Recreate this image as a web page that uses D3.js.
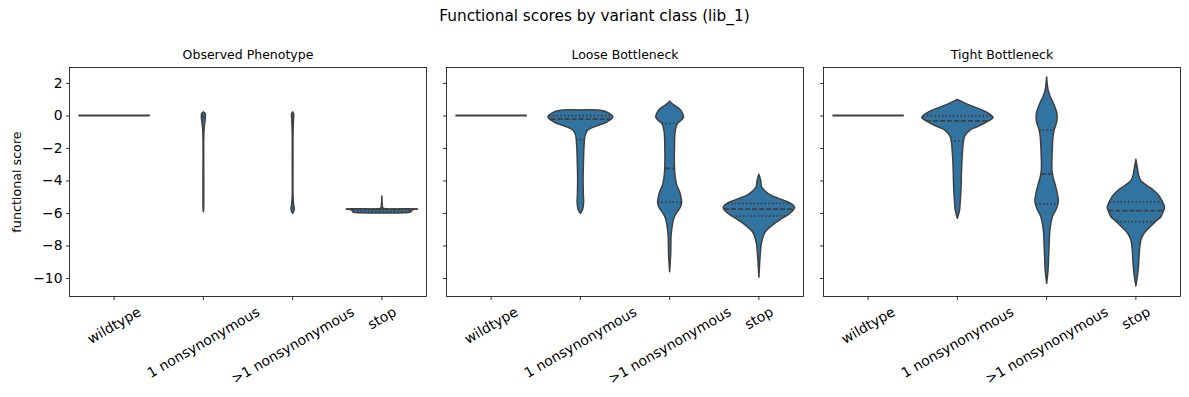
<!DOCTYPE html>
<html>
<head>
<meta charset="utf-8">
<title>Functional scores by variant class (lib_1)</title>
<style>
  body { margin: 0; background: #fff; }
  svg { display: block; font-family: "DejaVu Sans", sans-serif; }
</style>
<script src="https://cdn.jsdelivr.net/npm/d3@7"></script>
</head>
<body>
<svg id="chart"></svg>
<script>
const panels = ["Observed Phenotype", "Loose Bottleneck", "Tight Bottleneck"];
const classes = ["wildtype", "1 nonsynonymous", ">1 nonsynonymous", "stop"];
const yTicks = [2, 0, -2, -4, -6, -8, -10];

// wildtype has a single score, seaborn draws it as a flat line
const wildtypeScore = [0, 0, 0];

// density profiles: [score, relative density], top to bottom
// (order: 1 nonsynonymous, >1 nonsynonymous, stop)
const observedProfiles = [
    [[0.22, 0], [0.12, 0.05], [-0.1, 0.055], [-0.35, 0.045], [-0.8, 0.02], [-1.5, 0.01], [-5.7, 0.008], [-5.92, 0]],
    [[0.22, 0], [0.1, 0.03], [-0.2, 0.025], [-1.0, 0.012], [-3.0, 0.01], [-5.0, 0.012], [-5.5, 0.03], [-5.72, 0.045], [-5.9, 0.03], [-6.02, 0]],
    [[-4.96, 0], [-5.5, 0.012], [-5.7, 0.03], [-5.74, 0.6], [-5.76, 1.0], [-5.79, 0.86], [-5.95, 0.8], [-5.99, 0.6], [-6.0, 0]]
];
const looseProfiles = [
    [[0.34, 0], [0.32, 0.55], [0.2, 0.75], [-0.09, 0.91], [-0.39, 0.75], [-0.7, 0.39], [-0.9, 0.21], [-1.21, 0.135], [-1.83, 0.104],
     [-3.0, 0.085], [-3.87, 0.076], [-5.0, 0.085], [-5.31, 0.092], [-5.8, 0.06], [-6.02, 0]],
    [[0.88, 0], [0.74, 0.06], [0.53, 0.2], [0.33, 0.31], [-0.09, 0.39], [-0.3, 0.32], [-0.49, 0.22], [-1.0, 0.154], [-2.0, 0.135],
     [-2.85, 0.132], [-3.4, 0.14], [-3.87, 0.162], [-4.3, 0.2], [-4.7, 0.28], [-5.05, 0.32], [-5.35, 0.336], [-5.65, 0.3],
     [-5.92, 0.216], [-6.2, 0.14], [-6.54, 0.092], [-7.36, 0.042], [-8.5, 0.03], [-9.61, 0]],
    [[-3.61, 0], [-4.0, 0.05], [-4.39, 0.078], [-4.7, 0.2], [-4.9, 0.33], [-5.1, 0.55], [-5.31, 0.8], [-5.5, 0.95], [-5.68, 1.0],
     [-5.9, 0.93], [-6.13, 0.8], [-6.4, 0.6], [-6.64, 0.44], [-6.95, 0.27], [-7.25, 0.154], [-7.87, 0.07], [-8.5, 0.04], [-9.96, 0]]
];
const tightProfiles = [
    [[0.98, 0], [0.9, 0.08], [0.74, 0.23], [0.33, 0.7], [0.1, 0.9], [-0.12, 1.0], [-0.3, 0.9], [-0.49, 0.75], [-0.7, 0.55],
     [-0.9, 0.35], [-1.31, 0.2], [-2.34, 0.14], [-3.5, 0.115], [-4.39, 0.104], [-5.3, 0.08], [-5.82, 0.06], [-6.33, 0]],
    [[2.37, 0], [1.55, 0.042], [1.14, 0.106], [0.8, 0.18], [0.53, 0.23], [0.2, 0.28], [-0.18, 0.294], [-0.5, 0.27], [-0.9, 0.21],
     [-1.4, 0.175], [-1.93, 0.162], [-2.7, 0.148], [-3.36, 0.148], [-3.8, 0.18], [-4.18, 0.23], [-4.8, 0.3], [-5.31, 0.328],
     [-5.8, 0.26], [-6.23, 0.162], [-7.05, 0.092], [-8.0, 0.07], [-8.69, 0.056], [-9.5, 0.04], [-10.33, 0]],
    [[-2.7, 0], [-3.2, 0.04], [-3.6, 0.07], [-3.98, 0.13], [-4.3, 0.3], [-4.59, 0.49], [-4.9, 0.63], [-5.21, 0.72], [-5.65, 0.8],
     [-6.0, 0.75], [-6.23, 0.7], [-6.5, 0.56], [-6.85, 0.4], [-7.25, 0.23], [-7.66, 0.14], [-8.3, 0.1], [-8.89, 0.084],
     [-9.6, 0.06], [-10.49, 0]]
];

// inner quartile lines: [q3, median, q1]
const observedQuartiles = [[0.02, -0.1, -0.3], [-0.05, -0.4, -5.6], [-5.76, -5.78, -5.92]];
const looseQuartiles = [[-0.02, -0.23, -1.48], [-0.5, -3.26, -5.33], [-5.41, -5.76, -6.19]];
const tightQuartiles = [[-0.02, -0.33, -1.56], [-0.9, -3.61, -5.45], [-5.31, -5.86, -6.54]];

const profiles = [observedProfiles, looseProfiles, tightProfiles];
const quartiles = [observedQuartiles, looseQuartiles, tightQuartiles];

const W = 1189, H = 397;
const M = {left: 69.5, top: 67.5};
const PW = 357, PH = 229, GAP = 20;
const FILL = "#3274a1", LINE = "#3f3f3f";

const svg = d3.select("#chart").attr("width", W).attr("height", H);

const y = d3.scaleLinear().domain([-11.14, 2.95]).range([PH, 0]);
const x = d3.scaleBand().domain(classes).range([0, PW]);
const bw = x.bandwidth();
const w = d3.scaleLinear().domain([0, 1]).range([0, 0.4 * bw]);

const violinArea = d3.area()
    .curve(d3.curveCatmullRom.alpha(0.5))
    .y(d => y(d[0]))
    .x0(d => -w(d[1]))
    .x1(d => w(d[1]));

// linear lookup of the density at a score, for the quartile line widths
function densityAt(profile, v) {
    for (let i = 0; i < profile.length - 1; i++) {
        const a = profile[i], b = profile[i + 1];
        if (v <= a[0] && v >= b[0]) {
            const t = (a[0] - v) / (a[0] - b[0] || 1);
            return a[1] + t * (b[1] - a[1]);
        }
    }
    return 0;
}

// Suptitle
svg.append("text")
    .attr("x", 594.5).attr("y", 21)
    .attr("text-anchor", "middle")
    .style("font-size", "15.3px")
    .text("Functional scores by variant class (lib_1)");

// Y label
svg.append("text")
    .attr("transform", `translate(20.5,${M.top + PH / 2}) rotate(-90)`)
    .attr("text-anchor", "middle")
    .style("font-size", "12.7px")
    .text("functional score");

panels.forEach((title, p) => {
    const g = svg.append("g")
        .attr("transform", `translate(${M.left + p * (PW + GAP)},${M.top})`);

    g.append("text")
        .attr("x", PW / 2).attr("y", -8.5)
        .attr("text-anchor", "middle")
        .style("font-size", "12.5px")
        .text(title);

    // y axis
    const yAxis = d3.axisLeft(y).tickValues(yTicks).tickSize(3.5).tickPadding(3.5);
    if (p > 0) yAxis.tickFormat("");
    const ya = g.append("g").call(yAxis);
    ya.select(".domain").remove();
    ya.selectAll("line").attr("stroke", "#000").attr("stroke-width", 0.8);
    ya.selectAll("text").style("font-size", "13.9px").attr("fill", "#000")
        .attr("font-family", "DejaVu Sans");

    // x axis with rotated labels
    const xa = g.append("g").attr("transform", `translate(0,${PH})`)
        .call(d3.axisBottom(x).tickSize(3.5).tickPadding(0));
    xa.select(".domain").remove();
    xa.selectAll("line").attr("stroke", "#000").attr("stroke-width", 0.8);
    xa.selectAll("text")
        .style("font-size", "13.9px").attr("fill", "#000").attr("font-family", "DejaVu Sans")
        .attr("text-anchor", "middle").attr("y", 0).attr("dy", "0.346em")
        .each(function () {
            const tw = this.getComputedTextLength();
            const bh = tw * 0.5 + 16.2 * 0.866;
            d3.select(this).attr("transform", `translate(0,${7 + bh / 2}) rotate(-30)`);
        });

    // wildtype line
    const cw = x("wildtype") + bw / 2;
    g.append("line")
        .attr("x1", cw - w(1)).attr("x2", cw + w(1))
        .attr("y1", y(wildtypeScore[p])).attr("y2", y(wildtypeScore[p]))
        .attr("stroke", LINE).attr("stroke-width", 2);

    // violins
    classes.slice(1).forEach((c, i) => {
        const prof = profiles[p][i];
        const vg = g.append("g").attr("transform", `translate(${x(c) + bw / 2},0)`);
        vg.append("path")
            .attr("d", violinArea(prof))
            .attr("fill", FILL)
            .attr("stroke", LINE)
            .attr("stroke-width", 1.5)
            .attr("stroke-linejoin", "round");
        quartiles[p][i].forEach((q, k) => {
            const hw = w(densityAt(prof, q));
            vg.append("line")
                .attr("x1", -hw).attr("x2", hw)
                .attr("y1", y(q)).attr("y2", y(q))
                .attr("stroke", LINE)
                .attr("stroke-width", 1.8)
                .attr("stroke-dasharray", k === 1 ? "5,2" : "1.5,2.2");
        });
    });

    // frame
    g.append("rect")
        .attr("width", PW).attr("height", PH)
        .attr("fill", "none").attr("stroke", "#000").attr("stroke-width", 0.8);
});
</script>
</body>
</html>
